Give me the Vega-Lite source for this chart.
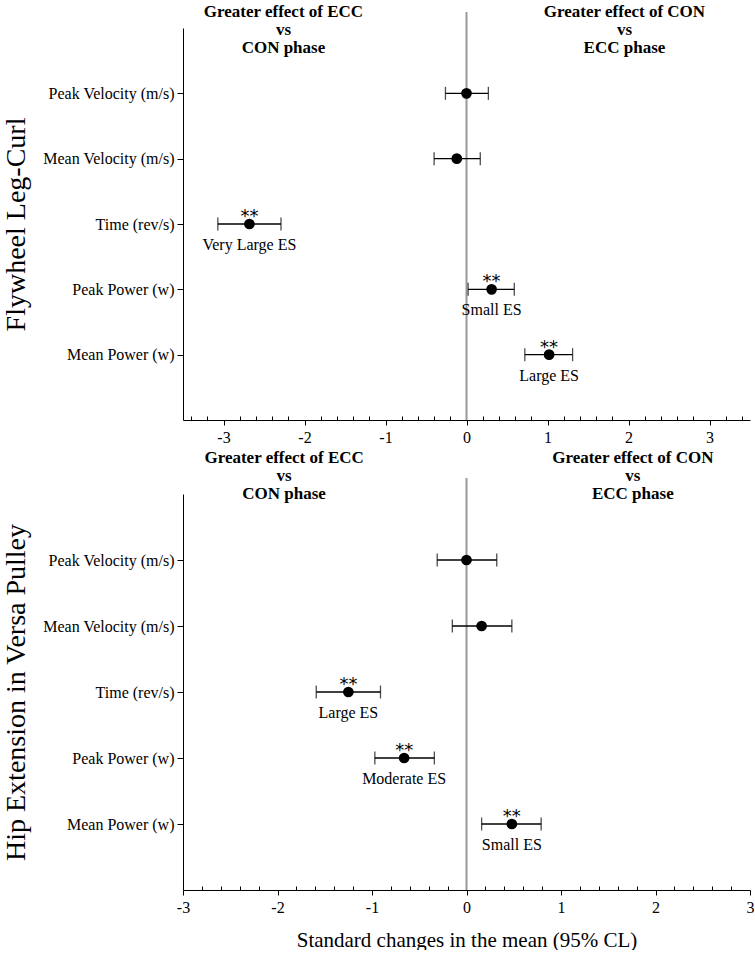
{
  "$schema": "https://vega.github.io/schema/vega-lite/v6.json",
  "padding": {"left": 2, "top": 3, "right": 0, "bottom": 0},
  "config": {
    "view": {"stroke": null},
    "font": "Liberation Serif",
    "axisX": {"grid": false, "tickColor": "black", "domainColor": "black", "labelFont": "Liberation Serif", "labelFontSize": 16, "labelColor": "black", "labelPadding": 4, "labelFlush": false, "labelOverlap": false, "titleFont": "Liberation Serif", "titleFontWeight": "normal", "titleColor": "black"}
  },
  "spacing": 4,
  "datasets": {
    "top": [
      {"measure": "Peak Velocity (m/s)", "mean": 0.0, "lo": -0.26, "hi": 0.27, "sig": "", "es": ""},
      {"measure": "Mean Velocity (m/s)", "mean": -0.12, "lo": -0.4, "hi": 0.17, "sig": "", "es": ""},
      {"measure": "Time (rev/s)", "mean": -2.68, "lo": -3.07, "hi": -2.29, "sig": "**", "es": "Very Large ES"},
      {"measure": "Peak Power (w)", "mean": 0.31, "lo": 0.02, "hi": 0.59, "sig": "**", "es": "Small ES"},
      {"measure": "Mean Power (w)", "mean": 1.02, "lo": 0.72, "hi": 1.31, "sig": "**", "es": "Large ES"}
    ],
    "bottom": [
      {"measure": "Peak Velocity (m/s)", "mean": 0.0, "lo": -0.31, "hi": 0.32, "sig": "", "es": ""},
      {"measure": "Mean Velocity (m/s)", "mean": 0.16, "lo": -0.15, "hi": 0.48, "sig": "", "es": ""},
      {"measure": "Time (rev/s)", "mean": -1.25, "lo": -1.59, "hi": -0.91, "sig": "**", "es": "Large ES"},
      {"measure": "Peak Power (w)", "mean": -0.66, "lo": -0.97, "hi": -0.34, "sig": "**", "es": "Moderate ES"},
      {"measure": "Mean Power (w)", "mean": 0.48, "lo": 0.16, "hi": 0.79, "sig": "**", "es": "Small ES"}
    ],
    "zero": [{"ref": 0}],
    "topHeaders": [
      {"pos": -2.26, "header": "Greater effect of ECC\nvs\nCON phase"},
      {"pos": 1.95, "header": "Greater effect of CON\nvs\nECC phase"}
    ],
    "bottomHeaders": [
      {"pos": -1.93, "header": "Greater effect of ECC\nvs\nCON phase"},
      {"pos": 1.76, "header": "Greater effect of CON\nvs\nECC phase"}
    ]
  },
  "vconcat": [
    {
      "width": 567,
      "height": 392,
      "resolve": {"axis": {"x": "independent"}},
      "encoding": {
        "y": {
          "field": "measure", "type": "nominal",
          "scale": {"type": "point", "padding": 1, "domain": ["Peak Velocity (m/s)", "Mean Velocity (m/s)", "Time (rev/s)", "Peak Power (w)", "Mean Power (w)"]},
          "axis": {"title": "Flywheel Leg-Curl", "titleFont": "Liberation Serif", "titleFontSize": 28, "titleFontWeight": "normal", "titleColor": "black", "titlePadding": 12,
                   "labelFont": "Liberation Serif", "labelFontSize": 16, "labelColor": "black", "labelPadding": 3, "tickSize": 6, "tickColor": "black", "domainColor": "black", "grid": false}
        }
      },
      "layer": [
        {
          "data": {"name": "zero"},
          "mark": {"type": "rule", "color": "#999999", "strokeWidth": 2, "yOffset": -16},
          "encoding": {
            "x": {"field": "ref", "type": "quantitative",
                  "scale": {"domain": [-3.5, 3.5], "nice": false, "zero": false},
                  "axis": {"orient": "bottom", "title": null, "values": [-3, -2, -1, 0, 1, 2, 3], "tickSize": 5, "labelExpr": "'' + datum.value"}},
            "y": null
          }
        },
        {
          "data": {"name": "top"},
          "mark": {"type": "rule", "color": "black", "strokeWidth": 1.3},
          "encoding": {
            "x": {"field": "lo", "type": "quantitative",
                  "axis": {"orient": "bottom", "title": null, "labels": false, "domain": false, "tickSize": -4,
                           "values": [-3.4,-3.2,-2.8,-2.6,-2.4,-2.2,-1.8,-1.6,-1.4,-1.2,-0.8,-0.6,-0.4,-0.2,0.2,0.4,0.6,0.8,1.2,1.4,1.6,1.8,2.2,2.4,2.6,2.8,3.2,3.4]}},
            "x2": {"field": "hi"}
          }
        },
        {
          "data": {"name": "topHeaders"},
          "mark": {"type": "text", "lineBreak": "\n", "font": "Liberation Serif", "fontWeight": "bold", "fontSize": 17, "lineHeight": 18, "align": "center", "baseline": "top", "dy": -89, "color": "black"},
          "encoding": {"x": {"field": "pos", "type": "quantitative", "axis": null}, "y": {"datum": "Peak Velocity (m/s)"}, "text": {"field": "header"}}
        },
        {
          "data": {"name": "top"},
          "mark": {"type": "tick", "orient": "vertical", "color": "black", "size": 13, "thickness": 1.3},
          "encoding": {"x": {"field": "lo", "type": "quantitative", "axis": null}}
        },
        {
          "data": {"name": "top"},
          "mark": {"type": "tick", "orient": "vertical", "color": "black", "size": 13, "thickness": 1.3},
          "encoding": {"x": {"field": "hi", "type": "quantitative", "axis": null}}
        },
        {
          "data": {"name": "top"},
          "mark": {"type": "point", "filled": true, "color": "black", "size": 115, "opacity": 1},
          "encoding": {"x": {"field": "mean", "type": "quantitative", "axis": null}}
        },
        {
          "data": {"name": "top"},
          "mark": {"type": "text", "font": "DejaVu Sans", "fontSize": 18, "color": "black", "dy": -7, "baseline": "middle", "align": "center"},
          "encoding": {"x": {"field": "mean", "type": "quantitative", "axis": null}, "text": {"field": "sig"}}
        },
        {
          "data": {"name": "top"},
          "mark": {"type": "text", "font": "Liberation Serif", "fontSize": 16, "color": "black", "dy": 21, "baseline": "middle", "align": "center"},
          "encoding": {"x": {"field": "mean", "type": "quantitative", "axis": null}, "text": {"field": "es"}}
        }
      ]
    },
    {
      "width": 567,
      "height": 396,
      "resolve": {"axis": {"x": "independent"}},
      "encoding": {
        "y": {
          "field": "measure", "type": "nominal",
          "scale": {"type": "point", "padding": 1, "domain": ["Peak Velocity (m/s)", "Mean Velocity (m/s)", "Time (rev/s)", "Peak Power (w)", "Mean Power (w)"]},
          "axis": {"title": "Hip Extension in Versa Pulley", "titleFont": "Liberation Serif", "titleFontSize": 28, "titleFontWeight": "normal", "titleColor": "black", "titlePadding": 12,
                   "labelFont": "Liberation Serif", "labelFontSize": 16, "labelColor": "black", "labelPadding": 3, "tickSize": 6, "tickColor": "black", "domainColor": "black", "grid": false}
        }
      },
      "layer": [
        {
          "data": {"name": "zero"},
          "mark": {"type": "rule", "color": "#999999", "strokeWidth": 2, "yOffset": -16},
          "encoding": {
            "x": {"field": "ref", "type": "quantitative",
                  "scale": {"domain": [-3, 3], "nice": false, "zero": false},
                  "axis": {"orient": "bottom", "title": "Standard changes in the mean (95% CL)", "titleFontSize": 21, "titlePadding": 14, "values": [-3, -2, -1, 0, 1, 2, 3], "tickSize": 5, "labelExpr": "'' + datum.value"}},
            "y": null
          }
        },
        {
          "data": {"name": "bottom"},
          "mark": {"type": "rule", "color": "black", "strokeWidth": 1.3},
          "encoding": {
            "x": {"field": "lo", "type": "quantitative",
                  "axis": {"orient": "bottom", "title": null, "labels": false, "domain": false, "tickSize": -4,
                           "values": [-2.8,-2.6,-2.4,-2.2,-1.8,-1.6,-1.4,-1.2,-0.8,-0.6,-0.4,-0.2,0.2,0.4,0.6,0.8,1.2,1.4,1.6,1.8,2.2,2.4,2.6,2.8]}},
            "x2": {"field": "hi"}
          }
        },
        {
          "data": {"name": "bottomHeaders"},
          "mark": {"type": "text", "lineBreak": "\n", "font": "Liberation Serif", "fontWeight": "bold", "fontSize": 17, "lineHeight": 18, "align": "center", "baseline": "top", "dy": -110, "color": "black"},
          "encoding": {"x": {"field": "pos", "type": "quantitative", "axis": null}, "y": {"datum": "Peak Velocity (m/s)"}, "text": {"field": "header"}}
        },
        {
          "data": {"name": "bottom"},
          "mark": {"type": "tick", "orient": "vertical", "color": "black", "size": 13, "thickness": 1.3},
          "encoding": {"x": {"field": "lo", "type": "quantitative", "axis": null}}
        },
        {
          "data": {"name": "bottom"},
          "mark": {"type": "tick", "orient": "vertical", "color": "black", "size": 13, "thickness": 1.3},
          "encoding": {"x": {"field": "hi", "type": "quantitative", "axis": null}}
        },
        {
          "data": {"name": "bottom"},
          "mark": {"type": "point", "filled": true, "color": "black", "size": 115, "opacity": 1},
          "encoding": {"x": {"field": "mean", "type": "quantitative", "axis": null}}
        },
        {
          "data": {"name": "bottom"},
          "mark": {"type": "text", "font": "DejaVu Sans", "fontSize": 18, "color": "black", "dy": -7, "baseline": "middle", "align": "center"},
          "encoding": {"x": {"field": "mean", "type": "quantitative", "axis": null}, "text": {"field": "sig"}}
        },
        {
          "data": {"name": "bottom"},
          "mark": {"type": "text", "font": "Liberation Serif", "fontSize": 16, "color": "black", "dy": 21, "baseline": "middle", "align": "center"},
          "encoding": {"x": {"field": "mean", "type": "quantitative", "axis": null}, "text": {"field": "es"}}
        }
      ]
    }
  ]
}
